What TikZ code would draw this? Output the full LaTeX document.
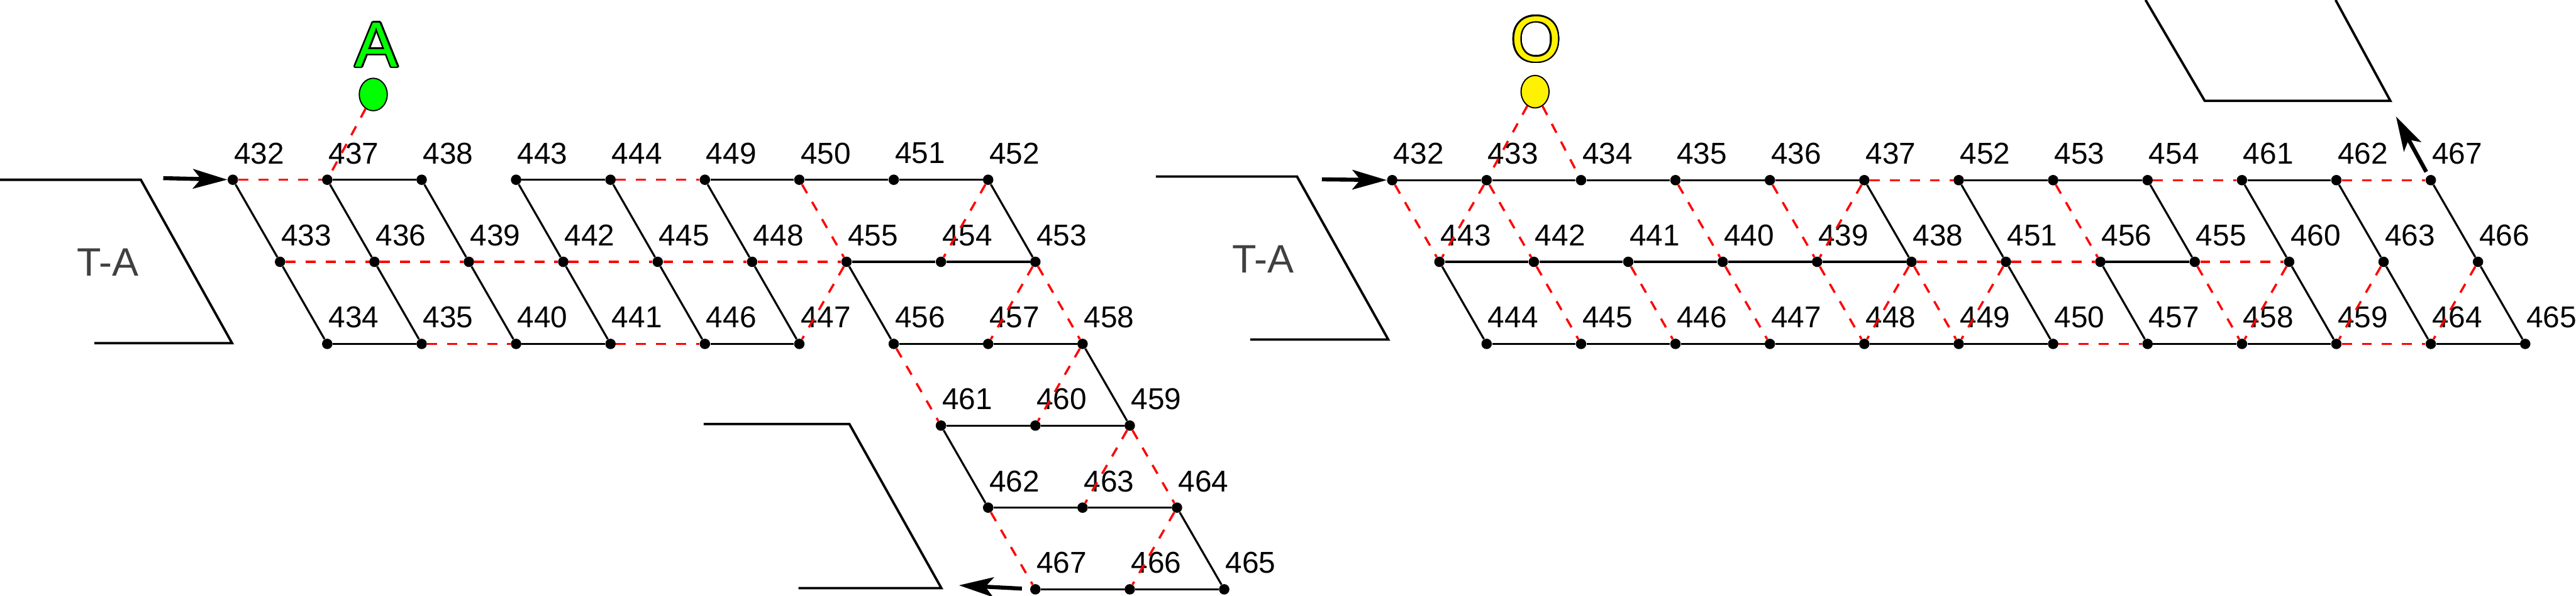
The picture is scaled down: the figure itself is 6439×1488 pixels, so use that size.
\documentclass[tikz,border=0pt]{standalone}
\usepackage{fontspec}
\setmainfont{Liberation Sans}
\usetikzlibrary{arrows.meta, shapes.geometric}

\begin{document}
\begin{tikzpicture}[x=0.1mm, y=-0.1mm,
    vnode/.style={circle, fill, inner sep=0pt, minimum size=2.6mm, label={[lbl]center:#1}},
    lbl/.style={inner sep=0pt, xshift=6.6mm, yshift=6.6mm, font=\fontsize{21.4}{24}\selectfont},
    bond/.style={line width=0.5mm},
    hop/.style={red, line width=0.55mm, dash pattern=on 2.5mm off 2.5mm},
    wall/.style={line width=0.6mm},
    flow/.style={line width=1mm, -{Stealth[length=8.6mm, width=4.9mm, inset=2mm]}},
    site/.style={ellipse, draw, line width=0.3mm, minimum width=7mm, minimum height=8.1mm, inner sep=0pt},
    glyph/.style={inner sep=0pt, font=\fontsize{45.5}{50}\selectfont},
    tag/.style={text=black!75, font=\fontsize{28.2}{32}\selectfont} ]
    % Bounding box for padding
    \useasboundingbox (0,0) rectangle (6439,1488);

    % --- Chain (a) ---
    \node[vnode=432] (a432) at (582,449) {};
    \node[vnode=437] (a437) at (818,449) {};
    \node[vnode=438] (a438) at (1054,449) {};
    \node[vnode=443] (a443) at (1290,449) {};
    \node[vnode=444] (a444) at (1526,449) {};
    \node[vnode=449] (a449) at (1762,449) {};
    \node[vnode=450] (a450) at (1998,449) {};
    \node[vnode=451] (a451) at (2234,449) {};
    \node[vnode=452] (a452) at (2470,449) {};

    \node[vnode=433] (a433) at (700,654) {};
    \node[vnode=436] (a436) at (936,654) {};
    \node[vnode=439] (a439) at (1172,654) {};
    \node[vnode=442] (a442) at (1408,654) {};
    \node[vnode=445] (a445) at (1644,654) {};
    \node[vnode=448] (a448) at (1880,654) {};
    \node[vnode=455] (a455) at (2116,654) {};
    \node[vnode=454] (a454) at (2352,654) {};
    \node[vnode=453] (a453) at (2588,654) {};

    \node[vnode=434] (a434) at (818,859) {};
    \node[vnode=435] (a435) at (1054,859) {};
    \node[vnode=440] (a440) at (1290,859) {};
    \node[vnode=441] (a441) at (1526,859) {};
    \node[vnode=446] (a446) at (1762,859) {};
    \node[vnode=447] (a447) at (1998,859) {};
    \node[vnode=456] (a456) at (2234,859) {};
    \node[vnode=457] (a457) at (2470,859) {};
    \node[vnode=458] (a458) at (2706,859) {};

    \node[vnode=461] (a461) at (2352,1063) {};
    \node[vnode=460] (a460) at (2588,1063) {};
    \node[vnode=459] (a459) at (2824,1063) {};

    \node[vnode=462] (a462) at (2470,1268) {};
    \node[vnode=463] (a463) at (2706,1268) {};
    \node[vnode=464] (a464) at (2942,1268) {};

    \node[vnode=467] (a467) at (2588,1472) {};
    \node[vnode=466] (a466) at (2824,1472) {};
    \node[vnode=465] (a465) at (3060,1472) {};

    \draw[bond] (a437) -- (a438);
    \draw[bond] (a443) -- (a444);
    \draw[bond] (a449) -- (a450) -- (a451) -- (a452);
    \draw[bond] (a455) -- (a454) -- (a453);
    \draw[bond] (a434) -- (a435);
    \draw[bond] (a440) -- (a441);
    \draw[bond] (a446) -- (a447);
    \draw[bond] (a456) -- (a457) -- (a458);
    \draw[bond] (a461) -- (a460) -- (a459);
    \draw[bond] (a462) -- (a463) -- (a464);
    \draw[bond] (a467) -- (a466) -- (a465);
    \draw[bond] (a432) -- (a433) -- (a434);
    \draw[bond] (a437) -- (a436) -- (a435);
    \draw[bond] (a438) -- (a439) -- (a440);
    \draw[bond] (a443) -- (a442) -- (a441);
    \draw[bond] (a444) -- (a445) -- (a446);
    \draw[bond] (a449) -- (a448) -- (a447);
    \draw[bond] (a455) -- (a456);
    \draw[bond] (a452) -- (a453);
    \draw[bond] (a458) -- (a459);
    \draw[bond] (a461) -- (a462);
    \draw[bond] (a464) -- (a465);

    \draw[hop] (a432) -- (a437);
    \draw[hop] (a444) -- (a449);
    \draw[hop] (a433) -- (a436) -- (a439) -- (a442) -- (a445) -- (a448) -- (a455);
    \draw[hop] (a435) -- (a440);
    \draw[hop] (a441) -- (a446);
    \draw[hop] (a450) -- (a455);
    \draw[hop] (a452) -- (a454);
    \draw[hop] (a455) -- (a447);
    \draw[hop] (a453) -- (a457);
    \draw[hop] (a453) -- (a458);
    \draw[hop] (a456) -- (a461);
    \draw[hop] (a458) -- (a460);
    \draw[hop] (a459) -- (a463);
    \draw[hop] (a459) -- (a464);
    \draw[hop] (a462) -- (a467);
    \draw[hop] (a464) -- (a466);

    % site A
    \node[site, fill=green] (gA) at (933,236) {};
    \draw[hop] (gA) -- (a437);
    \foreach \ang in {0,20,...,340}
        \node[glyph, text=black, xshift={0.4mm*cos(\ang)}, yshift={0.4mm*sin(\ang)}] (rimA\ang) at (941,112) {A};
    \node[glyph, text=green] (letA) at (941,112) {A};

    % walls and flow
    \draw[wall] (0,449) -- (352,449) -- (580,857) -- (236,857);
    \draw[wall] (1759,1059) -- (2123,1059) -- (2353,1469) -- (1996,1469);
    \node[tag] (ta) at (270,656) {T-A};
    \coordinate (ain) at (408,445);
    \coordinate (aout) at (2397,1462);
    \draw[flow] (ain) -- (a432);
    \draw[flow, shorten <=2mm] (a467) -- (aout);

    % --- Chain (b) ---
    \node[vnode=432] (b432) at (3480,450) {};
    \node[vnode=433] (b433) at (3716,450) {};
    \node[vnode=434] (b434) at (3952,450) {};
    \node[vnode=435] (b435) at (4188,450) {};
    \node[vnode=436] (b436) at (4424,450) {};
    \node[vnode=437] (b437) at (4660,450) {};
    \node[vnode=452] (b452) at (4896,450) {};
    \node[vnode=453] (b453) at (5132,450) {};
    \node[vnode=454] (b454) at (5368,450) {};
    \node[vnode=461] (b461) at (5604,450) {};
    \node[vnode=462] (b462) at (5840,450) {};
    \node[vnode=467] (b467) at (6076,450) {};

    \node[vnode=443] (b443) at (3598,654) {};
    \node[vnode=442] (b442) at (3834,654) {};
    \node[vnode=441] (b441) at (4070,654) {};
    \node[vnode=440] (b440) at (4306,654) {};
    \node[vnode=439] (b439) at (4542,654) {};
    \node[vnode=438] (b438) at (4778,654) {};
    \node[vnode=451] (b451) at (5014,654) {};
    \node[vnode=456] (b456) at (5250,654) {};
    \node[vnode=455] (b455) at (5486,654) {};
    \node[vnode=460] (b460) at (5722,654) {};
    \node[vnode=463] (b463) at (5958,654) {};
    \node[vnode=466] (b466) at (6194,654) {};

    \node[vnode=444] (b444) at (3716,859) {};
    \node[vnode=445] (b445) at (3952,859) {};
    \node[vnode=446] (b446) at (4188,859) {};
    \node[vnode=447] (b447) at (4424,859) {};
    \node[vnode=448] (b448) at (4660,859) {};
    \node[vnode=449] (b449) at (4896,859) {};
    \node[vnode=450] (b450) at (5132,859) {};
    \node[vnode=457] (b457) at (5368,859) {};
    \node[vnode=458] (b458) at (5604,859) {};
    \node[vnode=459] (b459) at (5840,859) {};
    \node[vnode=464] (b464) at (6076,859) {};
    \node[vnode=465] (b465) at (6312,859) {};

    \draw[bond] (b432) -- (b433) -- (b434) -- (b435) -- (b436) -- (b437);
    \draw[bond] (b452) -- (b453) -- (b454);
    \draw[bond] (b461) -- (b462);
    \draw[bond] (b443) -- (b442) -- (b441) -- (b440) -- (b439) -- (b438);
    \draw[bond] (b456) -- (b455);
    \draw[bond] (b444) -- (b445) -- (b446) -- (b447) -- (b448) -- (b449) -- (b450);
    \draw[bond] (b457) -- (b458) -- (b459);
    \draw[bond] (b464) -- (b465);
    \draw[bond] (b443) -- (b444);
    \draw[bond] (b437) -- (b438);
    \draw[bond] (b452) -- (b451) -- (b450);
    \draw[bond] (b454) -- (b455);
    \draw[bond] (b456) -- (b457);
    \draw[bond] (b461) -- (b460) -- (b459);
    \draw[bond] (b462) -- (b463) -- (b464);
    \draw[bond] (b467) -- (b466) -- (b465);

    \draw[hop] (b437) -- (b452);
    \draw[hop] (b454) -- (b461);
    \draw[hop] (b462) -- (b467);
    \draw[hop] (b438) -- (b451) -- (b456);
    \draw[hop] (b455) -- (b460);
    \draw[hop] (b450) -- (b457);
    \draw[hop] (b459) -- (b464);
    \draw[hop] (b432) -- (b443);
    \draw[hop] (b433) -- (b443);
    \draw[hop] (b433) -- (b442) -- (b445);
    \draw[hop] (b435) -- (b440) -- (b447);
    \draw[hop] (b436) -- (b439) -- (b448);
    \draw[hop] (b437) -- (b439);
    \draw[hop] (b441) -- (b446);
    \draw[hop] (b438) -- (b448);
    \draw[hop] (b438) -- (b449);
    \draw[hop] (b451) -- (b449);
    \draw[hop] (b453) -- (b456);
    \draw[hop] (b455) -- (b458);
    \draw[hop] (b460) -- (b458);
    \draw[hop] (b463) -- (b459);
    \draw[hop] (b466) -- (b464);

    % site O
    \node[site, fill=yellow] (gO) at (3837,229) {};
    \draw[hop] (gO) -- (b433);
    \draw[hop] (gO) -- (b434);
    \foreach \ang in {0,20,...,340}
        \node[glyph, text=black, xshift={0.4mm*cos(\ang)}, yshift={0.4mm*sin(\ang)}] (rimO\ang) at (3840,98) {O};
    \node[glyph, text=yellow] (letO) at (3840,98) {O};

    % walls and flow
    \draw[wall] (2889,441) -- (3242,441) -- (3470,848) -- (3125,848);
    \draw[wall] (5363,0) -- (5511,252) -- (5975,252) -- (5838,0);
    \node[tag] (tb) at (3158,647) {T-A};
    \coordinate (bin) at (3304,448);
    \coordinate (bout) at (5989,291);
    \draw[flow] (bin) -- (b432);
    \draw[flow, shorten <=1mm] (b467) -- (bout);
\end{tikzpicture}
\end{document}
